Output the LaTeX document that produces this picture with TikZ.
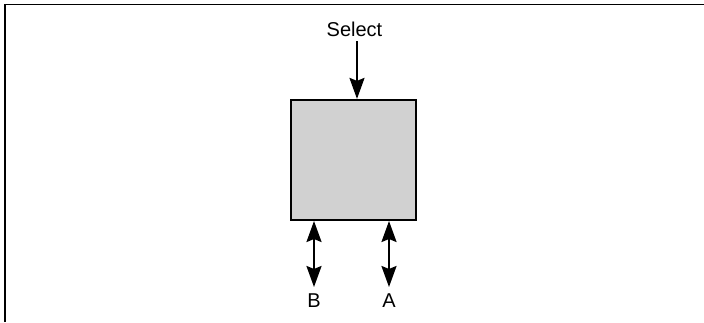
\documentclass[tikz,border=0pt]{standalone}
\usepackage{fontspec}
\setmainfont{Liberation Sans}
\usetikzlibrary{arrows.meta}
\begin{document}
\begin{tikzpicture}[x=1pt,y=-1pt,
  blockbox/.style={draw=black, line width=2.2pt, fill=black!18, minimum width=125pt, minimum height=120pt, inner sep=0pt},
  sig/.style={line width=2.2pt, -{Stealth[length=21pt,width=15pt,inset=3pt]}},
  bisig/.style={line width=2.2pt, {Stealth[length=21pt,width=15pt,inset=3pt]}-{Stealth[length=21pt,width=15pt,inset=3pt]}},
  lbl/.style={font=\fontsize{20}{24}\selectfont, inner sep=0pt}]
  \useasboundingbox (0,0) rectangle (704,322);
  % frame
  \draw[line width=1.6pt] (5,322) -- (5,4.5) -- (704,4.5);
  % block
  \node[blockbox] (blk) at (353.5,160) {};
  % select input
  \node[lbl] (sel) at (354.5,29) {Select};
  \draw[sig] (357,41) -- (blk.north -| 357,0);
  % ports
  \coordinate (bt) at (314,221);
  \coordinate (at) at (389,221);
  \node[lbl] (B) at (314,301) {B};
  \node[lbl] (A) at (389,301) {A};
  \draw[bisig] (bt) -- (314,287);
  \draw[bisig] (at) -- (389,287);
\end{tikzpicture}
\end{document}
